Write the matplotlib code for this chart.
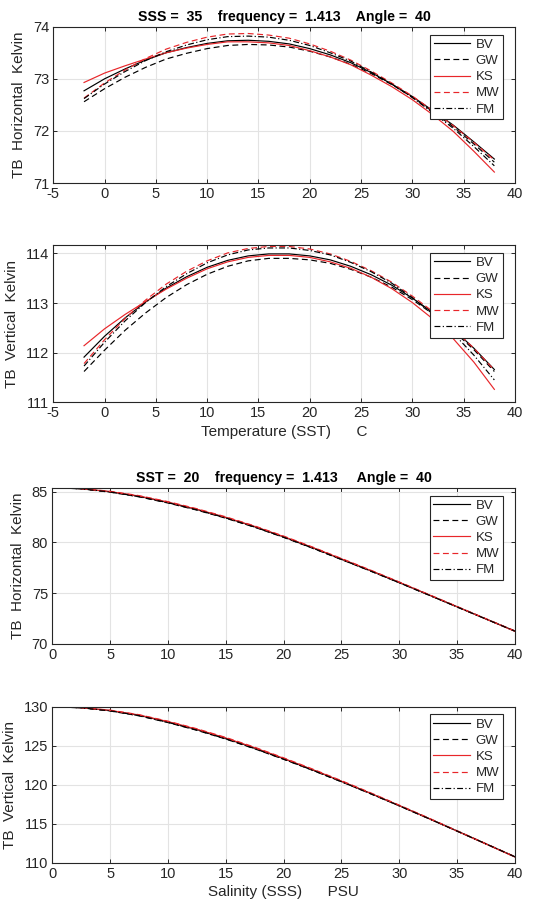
import matplotlib

matplotlib.use("Agg")
import matplotlib.pyplot as plt

plt.rcParams["font.family"] = ["Liberation Sans", "DejaVu Sans"]
plt.rcParams["axes.unicode_minus"] = False

# --- data ------------------------------------------------------------------
models = ["BV", "GW", "KS", "MW", "FM"]

sst = [-2, 0, 2, 4, 6, 8, 10, 12, 14, 16, 18, 20, 22, 24, 26, 28, 30, 32, 34, 36, 38]
sss = [0, 2.5, 5, 7.5, 10, 12.5, 15, 17.5, 20, 22.5, 25, 27.5, 30, 32.5, 35, 37.5, 40]

# TB horizontal vs SST (SSS = 35)
th_bv = [72.77, 73.00, 73.19, 73.36, 73.50, 73.60, 73.68, 73.73, 73.74, 73.72, 73.67,
         73.58, 73.46, 73.31, 73.12, 72.90, 72.66, 72.39, 72.11, 71.79, 71.46]
th_gw = [72.56, 72.81, 73.03, 73.22, 73.38, 73.49, 73.58, 73.64, 73.66, 73.65, 73.61,
         73.53, 73.42, 73.28, 73.10, 72.89, 72.65, 72.37, 72.08, 71.75, 71.40]
th_ks = [72.93, 73.11, 73.25, 73.38, 73.50, 73.59, 73.66, 73.71, 73.71, 73.69, 73.64,
         73.54, 73.42, 73.27, 73.07, 72.85, 72.60, 72.31, 71.99, 71.61, 71.21]
th_mw = [72.63, 72.92, 73.17, 73.39, 73.57, 73.70, 73.80, 73.86, 73.87, 73.84, 73.78,
         73.67, 73.53, 73.36, 73.15, 72.92, 72.67, 72.39, 72.10, 71.78, 71.44]
th_fm = [72.62, 72.90, 73.14, 73.35, 73.52, 73.65, 73.75, 73.81, 73.82, 73.80, 73.74,
         73.64, 73.50, 73.34, 73.13, 72.90, 72.64, 72.35, 72.05, 71.70, 71.33]

# TB vertical vs SST (SSS = 35)
tv_bv = [111.91, 112.33, 112.70, 113.02, 113.30, 113.53, 113.72, 113.86, 113.95, 113.99, 113.99,
         113.95, 113.87, 113.74, 113.57, 113.36, 113.10, 112.81, 112.47, 112.09, 111.66]
tv_gw = [111.62, 112.05, 112.45, 112.80, 113.11, 113.37, 113.58, 113.74, 113.85, 113.90, 113.90,
         113.87, 113.80, 113.68, 113.52, 113.32, 113.07, 112.78, 112.44, 112.06, 111.62]
tv_ks = [112.14, 112.48, 112.77, 113.03, 113.28, 113.50, 113.69, 113.83, 113.92, 113.96, 113.96,
         113.92, 113.83, 113.70, 113.52, 113.29, 113.01, 112.68, 112.28, 111.81, 111.26]
tv_mw = [111.78, 112.26, 112.69, 113.06, 113.38, 113.64, 113.85, 114.01, 114.10, 114.14, 114.14,
         114.09, 113.99, 113.84, 113.65, 113.42, 113.14, 112.83, 112.48, 112.09, 111.65]
tv_fm = [111.73, 112.21, 112.64, 113.01, 113.33, 113.59, 113.81, 113.97, 114.07, 114.11, 114.11,
         114.06, 113.97, 113.82, 113.63, 113.40, 113.11, 112.78, 112.39, 111.95, 111.45]

# TB horizontal vs SSS (SST = 20)
sh_bv = [85.42, 85.30, 85.00, 84.55, 83.95, 83.25, 82.45, 81.55, 80.55,
         79.48, 78.35, 77.22, 76.05, 74.85, 73.65, 72.45, 71.25]
sh_gw = [85.42, 85.28, 84.96, 84.50, 83.89, 83.19, 82.39, 81.50, 80.50,
         79.43, 78.31, 77.18, 76.02, 74.83, 73.63, 72.44, 71.25]
sh_ks = [85.42, 85.31, 85.02, 84.58, 83.98, 83.28, 82.48, 81.58, 80.58,
         79.51, 78.38, 77.24, 76.07, 74.86, 73.65, 72.44, 71.22]
sh_mw = [85.42, 85.32, 85.05, 84.62, 84.03, 83.33, 82.53, 81.63, 80.63,
         79.55, 78.42, 77.28, 76.10, 74.89, 73.68, 72.47, 71.27]
sh_fm = [85.42, 85.29, 84.98, 84.52, 83.92, 83.22, 82.42, 81.52, 80.52,
         79.45, 78.32, 77.19, 76.02, 74.83, 73.63, 72.43, 71.24]

# TB vertical vs SSS (SST = 20)
sv_bv = [130.0, 129.87, 129.5, 128.9, 128.05, 127.07, 125.95, 124.7, 123.35,
         121.93, 120.45, 118.92, 117.35, 115.74, 114.1, 112.45, 110.8]
sv_gw = [130.0, 129.85, 129.45, 128.83, 127.97, 126.98, 125.86, 124.61, 123.27,
         121.86, 120.39, 118.87, 117.31, 115.71, 114.08, 112.44, 110.80]
sv_ks = [130.0, 129.88, 129.53, 128.94, 128.10, 127.12, 126.0, 124.75, 123.39,
         121.96, 120.47, 118.93, 117.35, 115.73, 114.08, 112.42, 110.76]
sv_mw = [130.0, 129.89, 129.56, 128.98, 128.15, 127.18, 126.07, 124.82, 123.46,
         122.03, 120.54, 119.0, 117.41, 115.79, 114.13, 112.47, 110.81]
sv_fm = [130.0, 129.86, 129.47, 128.86, 128.0, 127.01, 125.89, 124.64, 123.29,
         121.88, 120.40, 118.88, 117.31, 115.71, 114.08, 112.44, 110.79]

RED = "#e8262a"
TXT = "#262626"
styles = {
    "BV": dict(color="k", linestyle="-"),
    "GW": dict(color="k", dashes=(5, 3)),
    "KS": dict(color=RED, linestyle="-"),
    "MW": dict(color=RED, dashes=(5, 3)),
    "FM": dict(color="k", dashes=(5, 2, 1, 2)),
}


def style_axes(ax, xlim, xticks, ylim, yticks, ylabel):
    ax.set_xlim(*xlim)
    ax.set_ylim(*ylim)
    ax.set_xticks(xticks)
    ax.set_yticks(yticks)
    ax.grid(True, color="#e3e3e3", linewidth=0.8)
    ax.set_axisbelow(True)
    ax.tick_params(direction="in", top=True, right=True, length=3, width=0.7,
                   colors=TXT, labelsize=10.5, pad=3)
    for sp in ax.spines.values():
        sp.set_color(TXT)
        sp.set_linewidth(0.8)
    ax.set_ylabel(ylabel, fontsize=11, color=TXT, labelpad=5)
    leg = ax.legend(loc="upper right", bbox_to_anchor=(0.975, 0.95),
                    fontsize=9.5, handlelength=2.8, labelspacing=0.3,
                    borderpad=0.3, borderaxespad=0.0, handletextpad=0.4,
                    fancybox=False, framealpha=1)
    leg.get_frame().set_edgecolor(TXT)
    leg.get_frame().set_linewidth(0.8)
    for t in leg.get_texts():
        t.set_color(TXT)


fig = plt.figure(figsize=(5.38, 9.06), dpi=100)
ax1 = fig.add_axes([0.099, 0.798, 0.858, 0.1725])
ax2 = fig.add_axes([0.099, 0.556, 0.858, 0.1736])
ax3 = fig.add_axes([0.097, 0.2895, 0.860, 0.1722])
ax4 = fig.add_axes([0.097, 0.0475, 0.860, 0.1725])

temp_series = [(ax1, [th_bv, th_gw, th_ks, th_mw, th_fm]),
               (ax2, [tv_bv, tv_gw, tv_ks, tv_mw, tv_fm])]
sal_series = [(ax3, [sh_bv, sh_gw, sh_ks, sh_mw, sh_fm]),
              (ax4, [sv_bv, sv_gw, sv_ks, sv_mw, sv_fm])]

for ax, ys in temp_series:
    for name, y in zip(models, ys):
        ax.plot(sst, y, linewidth=0.85, label=name, **styles[name])
for ax, ys in sal_series:
    for name, y in zip(models, ys):
        ax.plot(sss, y, linewidth=0.85, label=name, **styles[name])

xt_t = list(range(-5, 41, 5))
xt_s = list(range(0, 41, 5))
style_axes(ax1, (-5, 40), xt_t, (71, 74), [71, 72, 73, 74], "TB  Horizontal  Kelvin")
style_axes(ax2, (-5, 40), xt_t, (111, 114.17), [111, 112, 113, 114], "TB  Vertical  Kelvin")
style_axes(ax3, (0, 40), xt_s, (70, 85.4), [70, 75, 80, 85], "TB  Horizontal  Kelvin")
style_axes(ax4, (0, 40), xt_s, (110, 130), [110, 115, 120, 125, 130], "TB  Vertical  Kelvin")

ax1.set_title("SSS =  35    frequency =  1.413    Angle =  40",
              fontsize=10.2, fontweight="bold", color="k", pad=4)
ax3.set_title("SST =  20    frequency =  1.413     Angle =  40",
              fontsize=10.2, fontweight="bold", color="k", pad=4)
ax2.set_xlabel("Temperature (SST)      C", fontsize=11, color=TXT, labelpad=3)
ax4.set_xlabel("Salinity (SSS)      PSU", fontsize=11, color=TXT, labelpad=3)

fig.savefig("out.png", dpi=100)
